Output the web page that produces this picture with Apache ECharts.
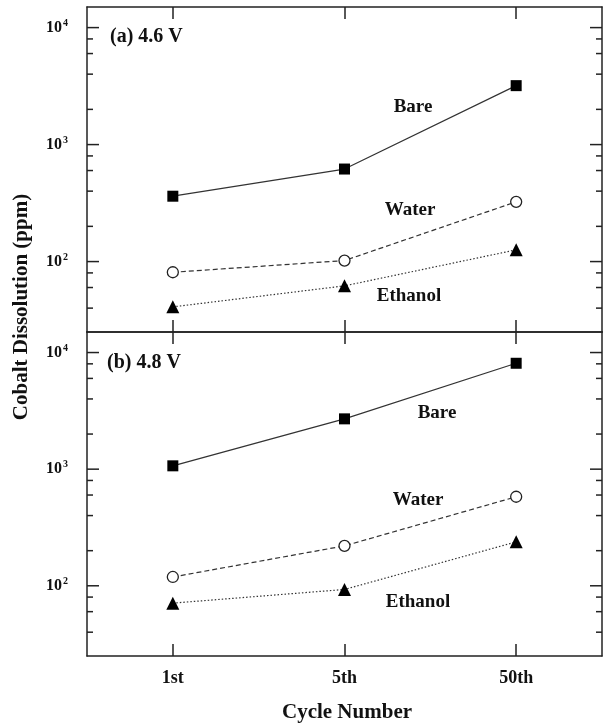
<!DOCTYPE html>
<html>
<head>
<meta charset="utf-8">
<script src="https://cdn.jsdelivr.net/npm/echarts@6/dist/echarts.min.js"></script>
<style>
html,body{margin:0;padding:0;background:#fff;}
#chart{width:604px;height:725px;}
</style>
</head>
<body>
<div id="chart"></div>
<script>
const categories = ['1st', '5th', '50th'];
// Panel (a) 4.6 V
const bareA = [362, 618, 3190];
const waterA = [81, 102, 324];
const ethanolA = [41, 62, 126];
// Panel (b) 4.8 V
const bareB = [1068, 2700, 8090];
const waterB = [119, 220, 580];
const ethanolB = [71, 93, 238];
const majorTicks = [100, 1000, 10000];
const minorTicks = [40, 60, 80, 200, 400, 600, 800, 2000, 4000, 6000, 8000];
const yMin = 25, yMax = 15000;

const FONT = '"Liberation Serif", "DejaVu Serif", serif';
const INK = '#222';

const chart = echarts.init(document.getElementById('chart'), null, {renderer: 'canvas'});

function yAxisDef(gi, showLabels) {
  return {
    type: 'log', gridIndex: gi, min: yMin, max: yMax, logBase: 10,
    axisLine: {show: true, lineStyle: {color: INK, width: 1.5}},
    axisTick: {show: false},
    splitLine: {show: false},
    axisLabel: {
      show: showLabels, margin: 19,
      formatter: function (v) {
        const e = Math.round(Math.log10(v));
        if (Math.abs(Math.pow(10, e) - v) > 1e-6 * v) return '';
        return '{b|10}{s|' + e + '}';
      },
      rich: {
        b: {fontFamily: FONT, fontWeight: 'bold', fontSize: 16, color: '#111'},
        s: {fontFamily: FONT, fontWeight: 'bold', fontSize: 10, color: '#111', padding: [0, 0, 9, 1]}
      }
    }
  };
}
function xAxisDef(gi, pos, showLabels) {
  return {
    type: 'category', gridIndex: gi, position: pos, data: categories, boundaryGap: true,
    axisLine: {show: true, onZero: false, lineStyle: {color: INK, width: 1.5}},
    axisTick: {show: true, inside: true, alignWithLabel: true, length: 12, lineStyle: {color: INK, width: 1.5}},
    splitLine: {show: false},
    axisLabel: {show: showLabels, margin: 13, fontFamily: FONT, fontWeight: 'bold', fontSize: 18, color: '#111'}
  };
}
function tickSeries(gi) {
  const data = [];
  majorTicks.forEach(v => data.push([0, v, 12]));
  minorTicks.forEach(v => data.push([0, v, 6]));
  return {
    type: 'custom', xAxisIndex: gi * 2, yAxisIndex: gi, silent: true, z: 5,
    data: data,
    encode: {x: 0, y: 1},
    renderItem: function (params, api) {
      const y = api.coord([0, api.value(1)])[1];
      const len = api.value(2);
      const cs = params.coordSys;
      const style = {stroke: INK, lineWidth: 1.5};
      return {
        type: 'group', children: [
          {type: 'line', shape: {x1: cs.x, y1: y, x2: cs.x + len, y2: y}, style: style},
          {type: 'line', shape: {x1: cs.x + cs.width - len, y1: y, x2: cs.x + cs.width, y2: y}, style: style}
        ]
      };
    }
  };
}
function lineSeries(gi, name, data, symbol, size, lineType, filled) {
  return {
    type: 'line', name: name, xAxisIndex: gi * 2, yAxisIndex: gi, data: data,
    symbol: symbol, symbolSize: size, showSymbol: true,
    lineStyle: {color: '#333', width: 1.2, type: lineType},
    itemStyle: filled ? {color: '#000', borderColor: '#000', borderWidth: 0}
                      : {color: '#fff', borderColor: '#222', borderWidth: 1.3},
    z: 3, animation: false
  };
}
function txt(x, y, t, size, align) {
  return {type: 'text', x: x, y: y, style: {text: t, fontFamily: FONT, fontWeight: 'bold', fontSize: size, fill: '#111', align: align || 'center', verticalAlign: 'middle'}};
}

const option = {
  backgroundColor: '#fff',
  animation: false,
  grid: [
    {left: 87, top: 7, width: 515, height: 325, show: false},
    {left: 87, top: 332, width: 515, height: 324, show: false}
  ],
  xAxis: [xAxisDef(0, 'bottom', false), xAxisDef(0, 'top', false), xAxisDef(1, 'bottom', true), xAxisDef(1, 'top', false)],
  yAxis: [yAxisDef(0, true), yAxisDef(1, true),
    Object.assign(yAxisDef(0, false), {position: 'right'}), Object.assign(yAxisDef(1, false), {position: 'right'})],
  series: [
    tickSeries(0), tickSeries(1),
    lineSeries(0, 'Bare', bareA, 'rect', 11, 'solid', true),
    lineSeries(0, 'Water', waterA, 'circle', 11, [5, 3], false),
    lineSeries(0, 'Ethanol', ethanolA, 'triangle', 13, [1.5, 2], true),
    lineSeries(1, 'Bare', bareB, 'rect', 11, 'solid', true),
    lineSeries(1, 'Water', waterB, 'circle', 11, [5, 3], false),
    lineSeries(1, 'Ethanol', ethanolB, 'triangle', 13, [1.5, 2], true)
  ],
  graphic: [
    txt(110, 37, '(a) 4.6 V', 20, 'left'),
    txt(107, 363, '(b) 4.8 V', 20, 'left'),
    txt(413, 107, 'Bare', 19), txt(410, 210, 'Water', 19), txt(409, 296, 'Ethanol', 19),
    txt(437, 413, 'Bare', 19), txt(418, 500, 'Water', 19), txt(418, 602, 'Ethanol', 19),
    txt(347, 713, 'Cycle Number', 21),
    {type: 'text', x: 22, y: 307, rotation: Math.PI / 2,
      style: {text: 'Cobalt Dissolution (ppm)', fontFamily: FONT, fontWeight: 'bold', fontSize: 21, fill: '#111', align: 'center', verticalAlign: 'middle'}}
  ]
};
chart.setOption(option);
</script>
</body>
</html>
